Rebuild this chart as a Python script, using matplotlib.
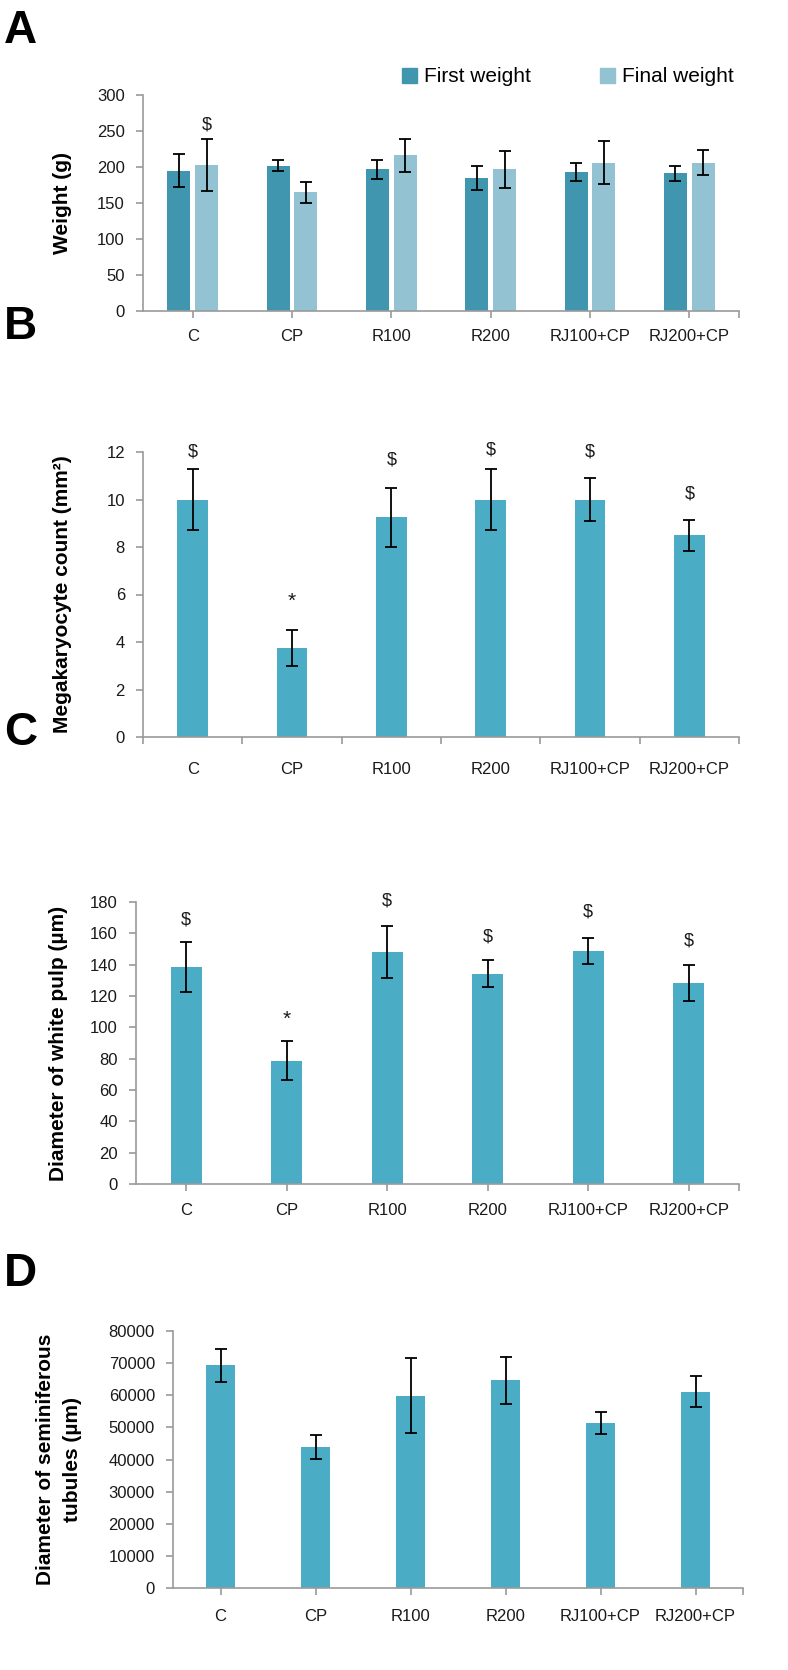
import numpy as np
import matplotlib
matplotlib.use("Agg")
import matplotlib.pyplot as plt
from matplotlib.patches import Patch

plt.rcParams['font.family'] = ['Liberation Sans', 'DejaVu Sans']

# --- data ---
groups = ["C", "CP", "R100", "R200", "RJ100+CP", "RJ200+CP"]

# A: body weight (g)
first_w = [195, 202, 197, 185, 193, 191]
first_err = [23, 8, 13, 17, 13, 10]
final_w = [203, 165, 216, 197, 206, 206]
final_err = [36, 14.5, 23, 25.5, 29.5, 17.5]
a_sig_final = ["$", "", "", "", "", ""]
a_sig_final_y = [258, None, None, None, None, None]

# B: megakaryocyte count
mk = [10.0, 3.75, 9.25, 10.0, 10.0, 8.5]
mk_err = [1.3, 0.75, 1.25, 1.3, 0.92, 0.65]
mk_sig = ["$", "*", "$", "$", "$", "$"]
mk_sig_y = [12.0, 5.7, 11.65, 12.07, 12.0, 10.25]

# C: white pulp diameter
wp = [138.5, 78.8, 148, 134.3, 148.7, 128.3]
wp_err = [16, 12.2, 16.7, 8.4, 8.1, 11.6]
wp_sig = ["$", "*", "$", "$", "$", "$"]
wp_sig_y = [168.7, 105.3, 180.8, 157.7, 173.6, 155.3]

# D: seminiferous tubules diameter
st = [69300, 43900, 59900, 64600, 51400, 61100]
st_err = [5200, 3600, 11800, 7300, 3400, 4900]

c_first = "#4096AE"
c_final = "#93C3D3"
c_bar = "#4BACC6"
c_axis = "#9A9A9A"
c_text = "#1A1A1A"

W, H = 788, 1670
fig = plt.figure(figsize=(W / 100, H / 100), dpi=100)


def make_ax(left, right, top, bottom):
    return fig.add_axes([left / W, 1 - bottom / H, (right - left) / W, (bottom - top) / H])


def style(ax, ymax, step, xpad, centers=True):
    x = np.arange(len(groups))
    ax.set_xlim(-0.5, len(groups) - 0.5)
    ax.set_ylim(0, ymax)
    ax.set_yticks(np.arange(0, ymax + step / 2, step))
    for s in ["top", "right"]:
        ax.spines[s].set_visible(False)
    for s in ["left", "bottom"]:
        ax.spines[s].set_color(c_axis)
        ax.spines[s].set_linewidth(1.2)
    ax.set_xticks(x)
    ax.set_xticklabels(groups)
    if centers:
        ax.set_xticks([len(groups) - 0.5], minor=True)
        ax.tick_params(axis="x", which="both", length=5, color=c_axis, width=1.2)
    else:
        ax.set_xticks(np.arange(-0.5, len(groups)), minor=True)
        ax.tick_params(axis="x", which="major", length=0)
        ax.tick_params(axis="x", which="minor", length=5, color=c_axis, width=1.2)
    ax.tick_params(axis="x", which="major", pad=xpad, labelsize=12, labelcolor=c_text)
    ax.tick_params(axis="y", length=5, color=c_axis, width=1.2, pad=8,
                   labelsize=12, labelcolor=c_text)


def ylab(ax, text, xc, left, width, **kw):
    ax.set_ylabel(text, fontsize=15, fontweight="bold", **kw)
    ax.yaxis.label.set_va("center")
    ax.yaxis.set_label_coords((xc - left) / width, 0.5)


def marks(ax, xs, ys, labels):
    for xi, yi, s in zip(xs, ys, labels):
        if s:
            ax.text(xi, yi, s, ha="center", va="center", color=c_text,
                    fontsize=15 if s == "*" else 13)


ekw = dict(ecolor="black", elinewidth=1.3, capsize=4, capthick=1.3)
x = np.arange(len(groups))

# ---- A ----
axA = make_ax(143, 739, 95, 311)
bw = 0.23
axA.bar(x - 0.14, first_w, bw, yerr=first_err, color=c_first, error_kw=ekw, zorder=2)
axA.bar(x + 0.14, final_w, bw, yerr=final_err, color=c_final, error_kw=ekw, zorder=2)
marks(axA, x + 0.14, a_sig_final_y, a_sig_final)
style(axA, 300, 50, 8)
ylab(axA, "Weight (g)", 63, 143, 596)
fig.legend(handles=[Patch(color=c_first, label="First weight"),
                    Patch(color=c_final, label="Final weight")],
           loc="center left", bbox_to_anchor=(392 / W, 1 - 77 / H), ncol=2, frameon=False,
           fontsize=15, handlelength=0.7, handleheight=0.7, handletextpad=0.35,
           columnspacing=3.3, borderpad=0)

# ---- B ----
axB = make_ax(143, 739, 452, 737)
axB.bar(x, mk, 0.31, yerr=mk_err, color=c_bar, error_kw=ekw, zorder=2)
marks(axB, x, mk_sig_y, mk_sig)
style(axB, 12, 2, 18, centers=False)
ylab(axB, "Megakaryocyte count (mm²)", 63, 143, 596)

# ---- C ----
axC = make_ax(136, 739, 902, 1184)
axC.bar(x, wp, 0.31, yerr=wp_err, color=c_bar, error_kw=ekw, zorder=2)
marks(axC, x, wp_sig_y, wp_sig)
style(axC, 180, 20, 9)
ylab(axC, "Diameter of white pulp (µm)", 58, 136, 603)

# ---- D ----
axD = make_ax(173, 743, 1331, 1588)
axD.bar(x, st, 0.30, yerr=st_err, color=c_bar, error_kw=ekw, zorder=2)
style(axD, 80000, 10000, 10)
ylab(axD, "Diameter of seminiferous\ntubules (µm)", 59, 173, 570, linespacing=1.55)

# panel letters
for lab, yb in zip("ABCD", [43, 339, 745, 1286]):
    fig.text(4 / W, 1 - yb / H, lab, fontsize=33, fontweight="bold", va="baseline", ha="left")

fig.savefig("out.png", dpi=100)
